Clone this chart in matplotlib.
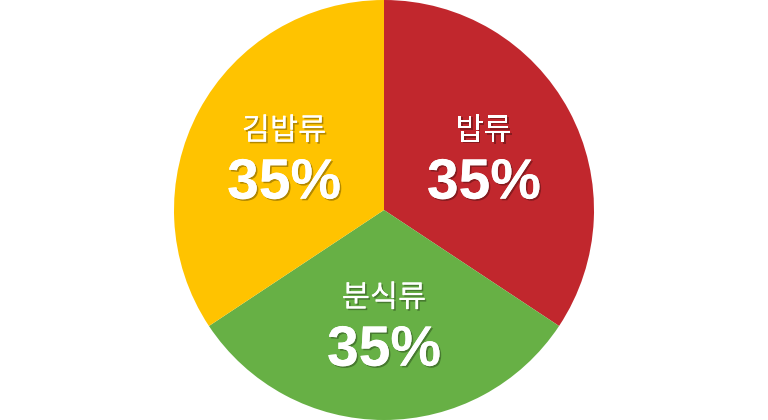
import numpy as np
import matplotlib.pyplot as plt
import matplotlib.patheffects as pe

# data
categories = ['밥류', '분식류', '김밥류']
values = [35, 32, 35]            # slice sizes as drawn
pct_labels = ['35%', '35%', '35%']  # text printed on the slices
colors = ['#C1272D', '#67B045', '#FFC300']

plt.rcParams['font.family'] = ['Noto Sans CJK KR', 'DejaVu Sans']

fig = plt.figure(figsize=(7.68, 4.2), dpi=100)
ax = fig.add_axes([0, 0, 1, 1])

wedges, _ = ax.pie(values, colors=colors, startangle=90, counterclock=False,
                   radius=1.0, wedgeprops={'linewidth': 0})
ax.set_xlim(-768 / 420, 768 / 420)
ax.set_ylim(-1, 1)
ax.set_aspect('equal')
ax.axis('off')

shadow = [pe.withSimplePatchShadow(offset=(1.2, -1.2), shadow_rgbFace='black', alpha=0.3),
          pe.Normal()]

for w, cat, lab in zip(wedges, categories, pct_labels):
    ang = np.deg2rad((w.theta1 + w.theta2) / 2)
    x, y = 0.54 * np.cos(ang), 0.54 * np.sin(ang)
    ax.text(x, y + 0.12, cat, ha='center', va='center', color='white',
            fontsize=22, path_effects=shadow)
    ax.text(x, y - 0.13, lab, ha='center', va='center', color='white',
            fontsize=41, fontweight='bold', family=['Liberation Sans', 'DejaVu Sans'],
            path_effects=shadow)

fig.savefig('out.png', dpi=100)
